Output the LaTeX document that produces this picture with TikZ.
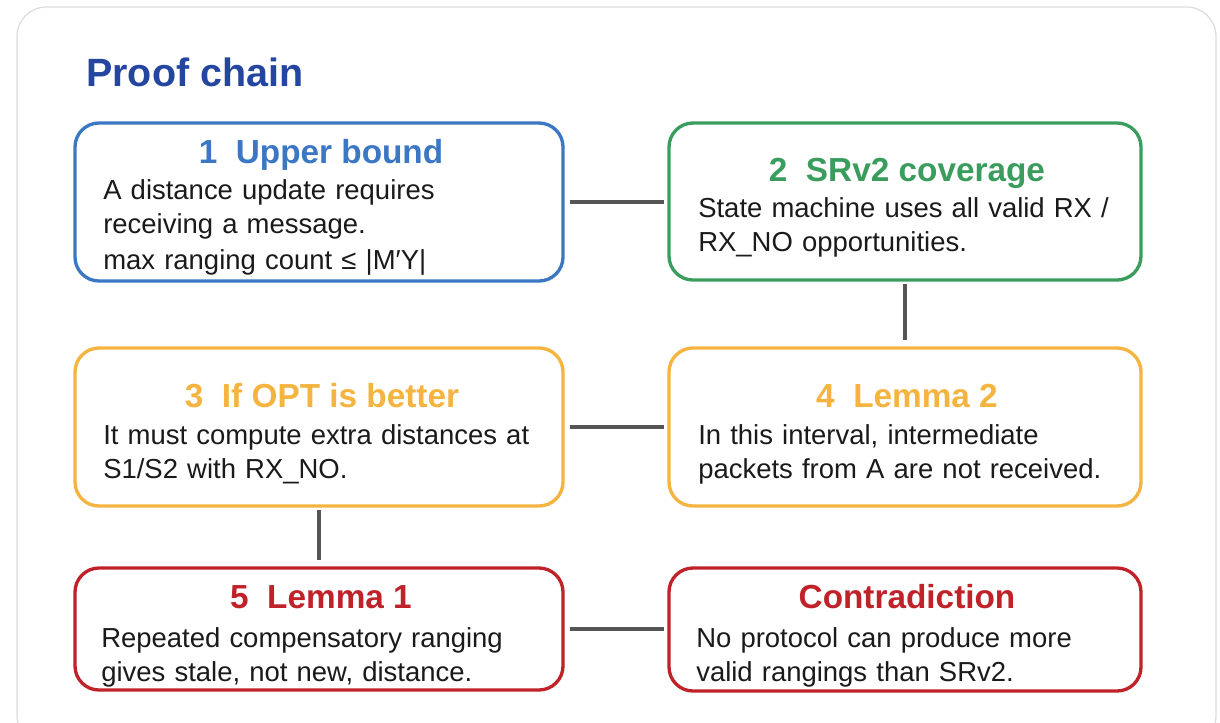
\documentclass[tikz,border=0pt]{standalone}
\usepackage{fontspec}
\setmainfont{Liberation Sans}
\begin{document}
\begin{tikzpicture}[x=0.75pt,y=-0.75pt,
  frame/.style={draw=framegray,line width=0.9pt,rounded corners=22pt},
  stagebox/.style={draw=#1,line width=2.5pt,rounded corners=18pt,rectangle,
    inner sep=0pt,outer sep=0pt,fill=white},
  conn/.style={draw=conngray,line width=2.3pt},
  heading/.style={text=#1,anchor=base,inner sep=0pt,
    font=\fontsize{25}{30}\selectfont\bfseries},
  body/.style={text=bodyblack,anchor=base west,inner sep=0pt,align=left,
    text width=345pt,font=\fontsize{20.6}{25.5}\selectfont},
]
\definecolor{framegray}{HTML}{DCDCDC}
\definecolor{conngray}{HTML}{555555}
\definecolor{titleblue}{HTML}{2446A0}
\definecolor{stepblue}{HTML}{3B77C3}
\definecolor{stepgreen}{HTML}{3A9D5D}
\definecolor{steporange}{HTML}{F5B43F}
\definecolor{stepred}{HTML}{C0222A}
\definecolor{bodyblack}{HTML}{1A1A1A}

\useasboundingbox (0,0) rectangle (1220,722);
\fill[white] (0,0) rectangle (1220,722);
\draw[frame] (17,7) rectangle (1216,745);

% heading of the panel
\node[anchor=base west,inner sep=0pt,text=titleblue,
  font=\fontsize{29.6}{34}\selectfont\bfseries] (title) at (86,86) {Proof chain};

% the six stages
\node[stagebox=stepblue,minimum width=488*0.75pt,minimum height=158*0.75pt] (b1) at (319,202) {};
\node[stagebox=stepgreen,minimum width=472*0.75pt,minimum height=157*0.75pt] (b2) at (905,201.5) {};
\node[stagebox=steporange,minimum width=488*0.75pt,minimum height=158*0.75pt] (b3) at (319,427) {};
\node[stagebox=steporange,minimum width=472*0.75pt,minimum height=158*0.75pt] (b4) at (905,427) {};
\node[stagebox=stepred,minimum width=488*0.75pt,minimum height=122*0.75pt] (b5) at (319,629) {};
\node[stagebox=stepred,minimum width=472*0.75pt,minimum height=123*0.75pt] (b6) at (905,629.5) {};

% links between stages
\draw[conn,shorten <=5.5pt,shorten >=4pt] (b1.east) -- (b1.east -| b2.west);
\draw[conn,shorten <=3pt,shorten >=6pt] (b2.south) -- (b2.south |- b4.north);
\draw[conn,shorten <=5.5pt,shorten >=4pt] (b3.east) -- (b3.east -| b4.west);
\draw[conn,shorten <=3pt,shorten >=6pt] (b3.south) -- (b3.south |- b5.north);
\draw[conn,shorten <=5.5pt,shorten >=4pt] (b5.east) -- (b5.east -| b6.west);

% stage texts
\node[heading=stepblue] (t1) at (321,163) {1\ \ Upper bound};
\node[body] (d1) at (103,199) {A distance update requires\\receiving a message.\\[2pt]max ranging count ≤ |M′Y|};

\node[heading=stepgreen] (t2) at (907,181) {2\ \ SRv2 coverage};
\node[body] (d2) at (698,217) {State machine uses all valid RX /\\RX\_NO opportunities.};

\node[heading=steporange] (t3) at (322,407) {3\ \ If OPT is better};
\node[body] (d3) at (103,444) {It must compute extra distances at\\S1/S2 with RX\_NO.};

\node[heading=steporange] (t4) at (907,407) {4\ \ Lemma 2};
\node[body] (d4) at (698,444) {In this interval, intermediate\\packets from A are not received.};

\node[heading=stepred] (t5) at (321,608) {5\ \ Lemma 1};
\node[body] (d5) at (101,647) {Repeated compensatory ranging\\gives stale, not new, distance.};

\node[heading=stepred] (t6) at (907,608) {Contradiction};
\node[body] (d6) at (696,647) {No protocol can produce more\\valid rangings than SRv2.};
\end{tikzpicture}
\end{document}
